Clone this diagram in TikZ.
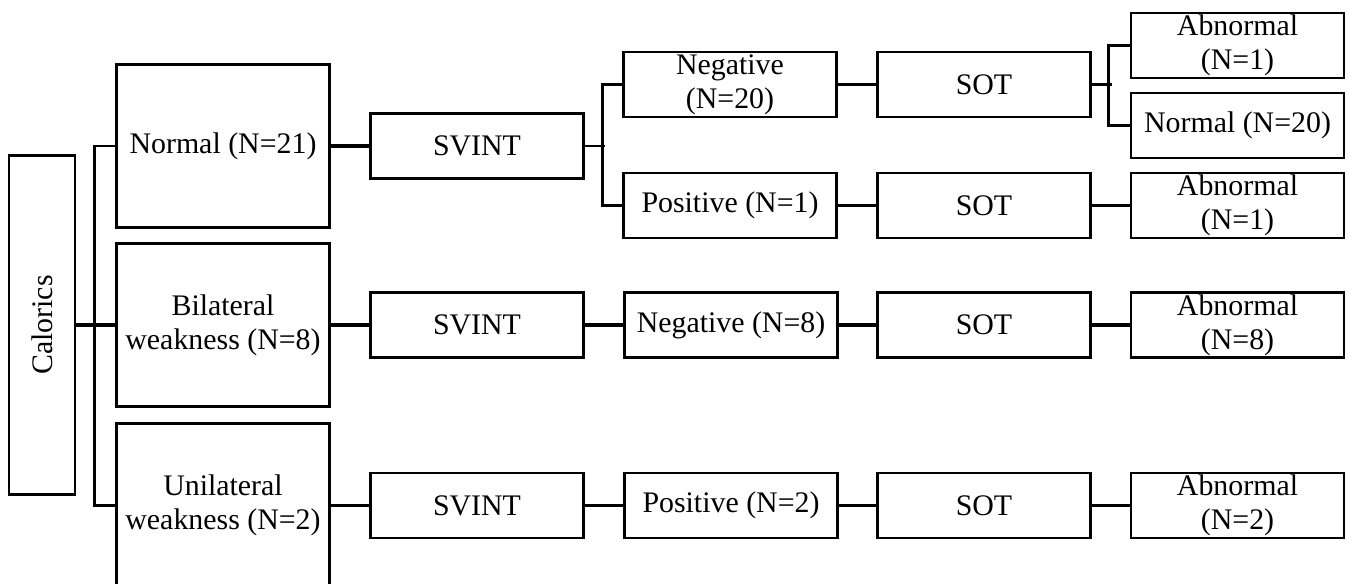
\documentclass[tikz,border=0pt]{standalone}
\usepackage{fontspec}
\setmainfont{Liberation Serif}

\tikzset{
  box/.style={draw, line width=1.5pt, minimum width=4.26cm, minimum height=1.3cm,
    inner sep=0pt, align=center, font=\fontsize{17}{19.5}\selectfont},
  tallbox/.style={box, minimum height=3.26cm},
  link/.style={line width=2pt},
  elbow/.style={line width=1.5pt}
}

\begin{document}
\begin{tikzpicture}[x=0.02cm, y=-0.02cm]
  \useasboundingbox (0,0) rectangle (1349,583);
  % first column
  \node[box, minimum width=1.32cm, minimum height=6.78cm] (cal) at (42,325) {\rotatebox{90}{Calorics}};
  \node[tallbox] (norm) at (223,146) {Normal (N=21)};
  \node[tallbox] (bil) at (223,325) {Bilateral\\weakness (N=8)};
  \node[tallbox, minimum height=3.28cm] (uni) at (223,505.5) {Unilateral\\weakness (N=2)};
  % SVINT
  \node[box] (sv1) at (477,146) {SVINT};
  \node[box] (sv2) at (477,325) {SVINT};
  \node[box] (sv3) at (477,505.5) {SVINT};
  % SVINT results
  \node[box] (neg20) at (730,84.5) {Negative\\(N=20)};
  \node[box] (pos1) at (730,205.5) {Positive (N=1)};
  \node[box] (neg8) at (731,325) {Negative (N=8)};
  \node[box] (pos2) at (731,505.5) {Positive (N=2)};
  % SOT
  \node[box] (sot1) at (984,84.5) {SOT};
  \node[box] (sot2) at (984,205.5) {SOT};
  \node[box] (sot3) at (984,325) {SOT};
  \node[box] (sot4) at (984,505.5) {SOT};
  % SOT results
  \node[box] (ab1) at (1237.5,45.5) {Abnormal\\(N=1)};
  \node[box] (nor20) at (1237.5,125.5) {Normal (N=20)};
  \node[box] (ab2) at (1237.5,205.5) {Abnormal\\(N=1)};
  \node[box] (ab3) at (1237.5,325) {Abnormal\\(N=8)};
  \node[box] (ab4) at (1237.5,505.5) {Abnormal\\(N=2)};
  % branches
  \draw[link] (cal.east) -- (bil.west);
  \draw[elbow] (norm.west) -- ++(-21,0) |- (uni.west);
  \draw[elbow] (sv1.east) -- ++(20,0);
  \draw[elbow] (neg20.west) -- ++(-20,0) |- (pos1.west);
  \draw[elbow] (sot1.east) -- ++(20,0);
  \draw[elbow] (ab1.west) -- ++(-21,0) |- (nor20.west);
  % straight links
  \draw[link] (norm) -- (sv1);
  \draw[link] (pos1) -- (sot2);
  \draw[link] (neg20) -- (sot1);
  \draw[link] (sot2) -- (ab2);
  \draw[link] (bil) -- (sv2);
  \draw[link] (sv2) -- (neg8);
  \draw[link] (neg8) -- (sot3);
  \draw[link] (sot3) -- (ab3);
  \draw[link] (uni) -- (sv3);
  \draw[link] (sv3) -- (pos2);
  \draw[link] (pos2) -- (sot4);
  \draw[link] (sot4) -- (ab4);
\end{tikzpicture}
\end{document}
